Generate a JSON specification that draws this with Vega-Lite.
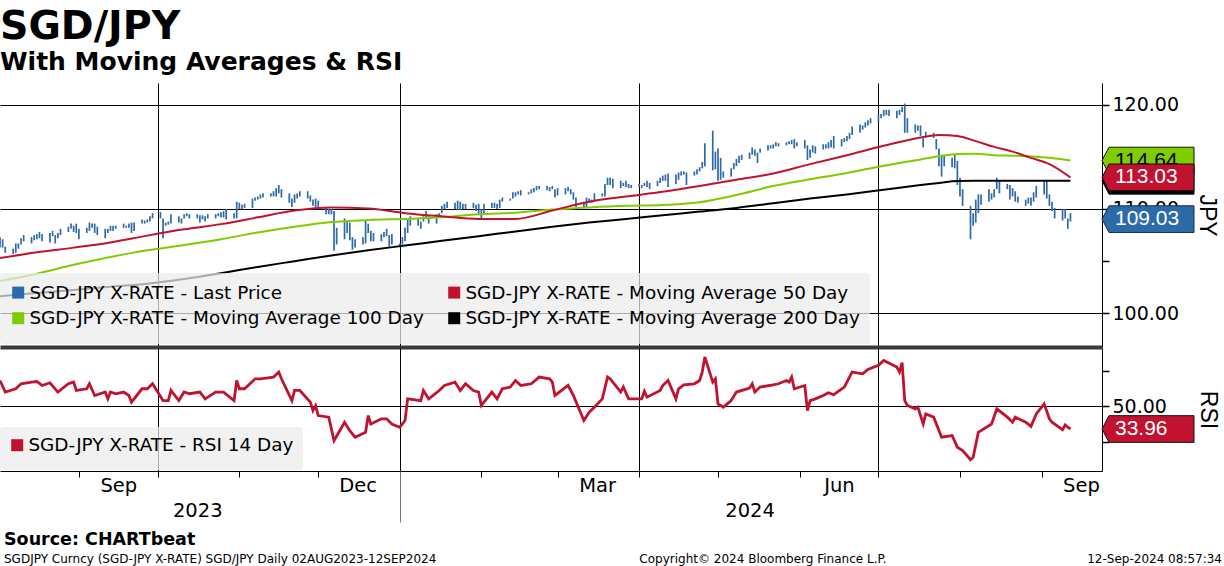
{
  "$schema": "https://vega.github.io/schema/vega-lite/v6.json",
  "background": "white",
  "padding": {"left": 0, "top": 6, "right": 0, "bottom": 0},
  "title": {
    "text": "SGD/JPY",
    "subtitle": "With Moving Averages & RSI",
    "anchor": "start",
    "frame": "group",
    "font": "DejaVu Sans",
    "fontSize": 39.5,
    "fontWeight": "bold",
    "color": "black",
    "subtitleFont": "DejaVu Sans",
    "subtitleFontSize": 25,
    "subtitleFontWeight": "bold",
    "subtitleColor": "black",
    "subtitlePadding": 3,
    "offset": 7
  },
  "datasets": {
    "bars": [
      {"d":"2023-08-02","h":107.3,"l":106.3},{"d":"2023-08-03","h":107.1,"l":106.3},{"d":"2023-08-04","h":106.4,"l":105.8},
      {"d":"2023-08-07","h":106.2,"l":105.7},{"d":"2023-08-08","h":106.7,"l":105.8},{"d":"2023-08-09","h":106.7,"l":106.2},{"d":"2023-08-10","h":107.2,"l":106.6},{"d":"2023-08-11","h":107.5,"l":106.9},
      {"d":"2023-08-14","h":107.3,"l":106.7},{"d":"2023-08-15","h":107.5,"l":107.0},{"d":"2023-08-16","h":107.6,"l":107.1},{"d":"2023-08-17","h":107.8,"l":107.2},{"d":"2023-08-18","h":107.6,"l":106.9},
      {"d":"2023-08-21","h":107.7,"l":106.8},{"d":"2023-08-22","h":107.9,"l":107.4},{"d":"2023-08-23","h":107.5,"l":106.7},{"d":"2023-08-24","h":107.7,"l":107.2},{"d":"2023-08-25","h":108.1,"l":107.5},
      {"d":"2023-08-28","h":108.3,"l":107.8},{"d":"2023-08-29","h":108.6,"l":108.1},{"d":"2023-08-30","h":108.4,"l":107.8},{"d":"2023-08-31","h":108.6,"l":107.7},{"d":"2023-09-01","h":108.1,"l":107.1},
      {"d":"2023-09-04","h":108.2,"l":107.7},{"d":"2023-09-05","h":108.7,"l":107.9},{"d":"2023-09-06","h":108.6,"l":108.2},{"d":"2023-09-07","h":108.6,"l":107.7},{"d":"2023-09-08","h":108.3,"l":107.5},
      {"d":"2023-09-11","h":108.1,"l":107.2},{"d":"2023-09-12","h":108.1,"l":107.7},{"d":"2023-09-13","h":108.4,"l":107.9},{"d":"2023-09-14","h":108.4,"l":107.9},{"d":"2023-09-15","h":108.4,"l":108.1},
      {"d":"2023-09-18","h":108.6,"l":108.2},{"d":"2023-09-19","h":108.4,"l":108.2},{"d":"2023-09-20","h":108.6,"l":108.2},{"d":"2023-09-21","h":108.7,"l":107.7},{"d":"2023-09-22","h":108.7,"l":107.9},
      {"d":"2023-09-25","h":109.0,"l":108.6},{"d":"2023-09-26","h":108.9,"l":108.6},{"d":"2023-09-27","h":109.0,"l":108.7},{"d":"2023-09-28","h":109.3,"l":108.8},{"d":"2023-09-29","h":109.6,"l":109.1},
      {"d":"2023-10-02","h":109.7,"l":109.1},{"d":"2023-10-03","h":109.1,"l":107.2},{"d":"2023-10-04","h":108.7,"l":108.4},{"d":"2023-10-05","h":108.8,"l":108.5},{"d":"2023-10-06","h":109.5,"l":108.6},
      {"d":"2023-10-09","h":109.3,"l":108.7},{"d":"2023-10-10","h":109.1,"l":108.6},{"d":"2023-10-11","h":109.5,"l":109.1},{"d":"2023-10-12","h":109.6,"l":109.3},{"d":"2023-10-13","h":109.5,"l":109.1},
      {"d":"2023-10-16","h":109.5,"l":109.1},{"d":"2023-10-17","h":109.4,"l":108.7},{"d":"2023-10-18","h":109.4,"l":109.0},{"d":"2023-10-19","h":109.3,"l":108.8},{"d":"2023-10-20","h":109.5,"l":109.1},
      {"d":"2023-10-23","h":109.5,"l":109.1},{"d":"2023-10-24","h":109.6,"l":109.3},{"d":"2023-10-25","h":109.7,"l":109.2},{"d":"2023-10-26","h":109.8,"l":109.2},{"d":"2023-10-27","h":110.0,"l":109.0},
      {"d":"2023-10-30","h":109.6,"l":109.1},{"d":"2023-10-31","h":110.7,"l":109.1},{"d":"2023-11-01","h":110.6,"l":110.0},{"d":"2023-11-02","h":110.4,"l":110.0},{"d":"2023-11-03","h":110.5,"l":110.1},
      {"d":"2023-11-06","h":111.0,"l":110.1},{"d":"2023-11-07","h":111.1,"l":110.8},{"d":"2023-11-08","h":111.2,"l":110.9},{"d":"2023-11-09","h":111.4,"l":111.0},{"d":"2023-11-10","h":111.5,"l":111.1},
      {"d":"2023-11-13","h":111.5,"l":111.2},{"d":"2023-11-14","h":111.7,"l":111.2},{"d":"2023-11-15","h":112.0,"l":111.2},{"d":"2023-11-16","h":112.3,"l":111.5},{"d":"2023-11-17","h":111.9,"l":111.1},
      {"d":"2023-11-20","h":111.5,"l":110.6},{"d":"2023-11-21","h":111.0,"l":110.2},{"d":"2023-11-22","h":111.4,"l":110.6},{"d":"2023-11-23","h":111.5,"l":111.0},{"d":"2023-11-24","h":111.7,"l":111.2},
      {"d":"2023-11-27","h":111.7,"l":111.0},{"d":"2023-11-28","h":111.3,"l":110.7},{"d":"2023-11-29","h":110.9,"l":110.3},{"d":"2023-11-30","h":111.0,"l":110.1},{"d":"2023-12-01","h":110.8,"l":110.1},
      {"d":"2023-12-04","h":110.1,"l":109.5},{"d":"2023-12-05","h":110.0,"l":109.5},{"d":"2023-12-06","h":110.0,"l":109.5},{"d":"2023-12-07","h":109.8,"l":106.0},{"d":"2023-12-08","h":108.2,"l":106.6},
      {"d":"2023-12-11","h":109.1,"l":107.1},{"d":"2023-12-12","h":108.9,"l":107.7},{"d":"2023-12-13","h":108.7,"l":107.0},{"d":"2023-12-14","h":107.3,"l":106.1},{"d":"2023-12-15","h":107.1,"l":106.3},
      {"d":"2023-12-18","h":107.3,"l":106.6},{"d":"2023-12-19","h":108.9,"l":106.7},{"d":"2023-12-20","h":108.6,"l":107.7},{"d":"2023-12-21","h":107.9,"l":106.9},{"d":"2023-12-22","h":107.7,"l":106.9},
      {"d":"2023-12-25","h":107.6,"l":106.9},{"d":"2023-12-26","h":107.8,"l":107.3},{"d":"2023-12-27","h":108.1,"l":107.4},{"d":"2023-12-28","h":107.5,"l":106.4},{"d":"2023-12-29","h":107.6,"l":106.6},
      {"d":"2024-01-01","h":106.7,"l":106.5},{"d":"2024-01-02","h":107.3,"l":106.6},{"d":"2024-01-03","h":108.2,"l":106.9},{"d":"2024-01-04","h":109.0,"l":107.7},{"d":"2024-01-05","h":109.3,"l":108.4},
      {"d":"2024-01-08","h":109.1,"l":108.4},{"d":"2024-01-09","h":108.8,"l":108.1},{"d":"2024-01-10","h":109.3,"l":108.8},{"d":"2024-01-11","h":109.8,"l":109.1},{"d":"2024-01-12","h":109.3,"l":108.6},
      {"d":"2024-01-15","h":109.5,"l":108.6},{"d":"2024-01-16","h":109.6,"l":109.3},{"d":"2024-01-17","h":110.3,"l":109.6},{"d":"2024-01-18","h":110.5,"l":110.0},{"d":"2024-01-19","h":110.7,"l":110.1},
      {"d":"2024-01-22","h":110.6,"l":110.0},{"d":"2024-01-23","h":110.8,"l":109.9},{"d":"2024-01-24","h":110.7,"l":109.9},{"d":"2024-01-25","h":110.5,"l":110.0},{"d":"2024-01-26","h":110.5,"l":110.0},
      {"d":"2024-01-29","h":110.6,"l":110.1},{"d":"2024-01-30","h":110.4,"l":109.8},{"d":"2024-01-31","h":110.5,"l":109.5},{"d":"2024-02-01","h":110.0,"l":109.0},{"d":"2024-02-02","h":110.5,"l":109.5},
      {"d":"2024-02-05","h":110.6,"l":110.1},{"d":"2024-02-06","h":110.6,"l":110.1},{"d":"2024-02-07","h":110.5,"l":110.0},{"d":"2024-02-08","h":110.9,"l":110.1},{"d":"2024-02-09","h":111.1,"l":110.7},
      {"d":"2024-02-12","h":111.0,"l":110.8},{"d":"2024-02-13","h":111.6,"l":111.0},{"d":"2024-02-14","h":111.6,"l":111.2},{"d":"2024-02-15","h":111.7,"l":111.4},{"d":"2024-02-16","h":111.8,"l":111.3},
      {"d":"2024-02-19","h":111.6,"l":111.4},{"d":"2024-02-20","h":111.9,"l":111.5},{"d":"2024-02-21","h":112.0,"l":111.6},{"d":"2024-02-22","h":112.2,"l":111.8},{"d":"2024-02-23","h":112.2,"l":111.9},
      {"d":"2024-02-26","h":112.2,"l":111.8},{"d":"2024-02-27","h":112.1,"l":111.7},{"d":"2024-02-28","h":112.2,"l":111.9},{"d":"2024-02-29","h":111.9,"l":111.1},{"d":"2024-03-01","h":112.0,"l":111.3},
      {"d":"2024-03-04","h":112.0,"l":111.4},{"d":"2024-03-05","h":112.1,"l":111.7},{"d":"2024-03-06","h":111.9,"l":111.4},{"d":"2024-03-07","h":111.6,"l":110.9},{"d":"2024-03-08","h":111.1,"l":110.2},
      {"d":"2024-03-11","h":110.7,"l":110.2},{"d":"2024-03-12","h":111.1,"l":110.2},{"d":"2024-03-13","h":111.0,"l":110.6},{"d":"2024-03-14","h":110.9,"l":110.6},{"d":"2024-03-15","h":111.5,"l":110.7},
      {"d":"2024-03-18","h":111.5,"l":111.2},{"d":"2024-03-19","h":112.4,"l":111.2},{"d":"2024-03-20","h":113.0,"l":112.3},{"d":"2024-03-21","h":113.0,"l":112.3},{"d":"2024-03-22","h":112.9,"l":112.0},
      {"d":"2024-03-25","h":112.7,"l":112.0},{"d":"2024-03-26","h":112.5,"l":112.2},{"d":"2024-03-27","h":112.7,"l":112.1},{"d":"2024-03-28","h":112.4,"l":112.0},{"d":"2024-03-29","h":112.3,"l":112.0},
      {"d":"2024-04-01","h":112.4,"l":112.1},{"d":"2024-04-02","h":112.3,"l":112.0},{"d":"2024-04-03","h":112.5,"l":112.2},{"d":"2024-04-04","h":112.7,"l":112.1},{"d":"2024-04-05","h":112.5,"l":111.9},
      {"d":"2024-04-08","h":112.7,"l":112.2},{"d":"2024-04-09","h":113.0,"l":112.5},{"d":"2024-04-10","h":113.2,"l":112.7},{"d":"2024-04-11","h":113.3,"l":112.7},{"d":"2024-04-12","h":113.4,"l":112.1},
      {"d":"2024-04-15","h":113.3,"l":112.4},{"d":"2024-04-16","h":113.5,"l":112.8},{"d":"2024-04-17","h":113.6,"l":113.2},{"d":"2024-04-18","h":113.6,"l":113.3},{"d":"2024-04-19","h":113.5,"l":112.3},
      {"d":"2024-04-22","h":113.6,"l":113.2},{"d":"2024-04-23","h":113.8,"l":113.3},{"d":"2024-04-24","h":114.0,"l":113.6},{"d":"2024-04-25","h":114.5,"l":113.9},{"d":"2024-04-26","h":116.3,"l":114.1},
      {"d":"2024-04-29","h":117.5,"l":113.7},{"d":"2024-04-30","h":115.5,"l":113.8},{"d":"2024-05-01","h":115.8,"l":112.7},{"d":"2024-05-02","h":114.9,"l":112.8},{"d":"2024-05-03","h":113.6,"l":113.0},
      {"d":"2024-05-06","h":113.9,"l":113.1},{"d":"2024-05-07","h":114.4,"l":113.8},{"d":"2024-05-08","h":114.8,"l":114.1},{"d":"2024-05-09","h":115.1,"l":114.4},{"d":"2024-05-10","h":115.2,"l":114.7},
      {"d":"2024-05-13","h":115.4,"l":114.8},{"d":"2024-05-14","h":115.9,"l":115.2},{"d":"2024-05-15","h":115.7,"l":115.1},{"d":"2024-05-16","h":115.4,"l":114.4},{"d":"2024-05-17","h":115.8,"l":115.4},
      {"d":"2024-05-20","h":116.1,"l":115.6},{"d":"2024-05-21","h":116.1,"l":115.8},{"d":"2024-05-22","h":116.2,"l":115.8},{"d":"2024-05-23","h":116.4,"l":116.0},{"d":"2024-05-24","h":116.3,"l":116.0},
      {"d":"2024-05-27","h":116.4,"l":116.1},{"d":"2024-05-28","h":116.5,"l":116.2},{"d":"2024-05-29","h":116.6,"l":116.2},{"d":"2024-05-30","h":116.7,"l":115.8},{"d":"2024-05-31","h":116.4,"l":116.0},
      {"d":"2024-06-03","h":116.6,"l":115.8},{"d":"2024-06-04","h":116.1,"l":114.7},{"d":"2024-06-05","h":115.7,"l":114.9},{"d":"2024-06-06","h":116.1,"l":115.4},{"d":"2024-06-07","h":116.0,"l":115.3},
      {"d":"2024-06-10","h":116.2,"l":115.7},{"d":"2024-06-11","h":116.2,"l":115.8},{"d":"2024-06-12","h":116.4,"l":115.8},{"d":"2024-06-13","h":116.6,"l":115.9},{"d":"2024-06-14","h":117.0,"l":115.8},
      {"d":"2024-06-17","h":116.7,"l":116.0},{"d":"2024-06-18","h":116.8,"l":116.4},{"d":"2024-06-19","h":117.0,"l":116.5},{"d":"2024-06-20","h":117.3,"l":116.7},{"d":"2024-06-21","h":117.9,"l":117.1},
      {"d":"2024-06-24","h":118.1,"l":117.3},{"d":"2024-06-25","h":118.0,"l":117.6},{"d":"2024-06-26","h":118.3,"l":117.8},{"d":"2024-06-27","h":118.5,"l":118.0},{"d":"2024-06-28","h":118.7,"l":118.2},
      {"d":"2024-07-01","h":119.0,"l":118.4},{"d":"2024-07-02","h":119.1,"l":118.7},{"d":"2024-07-03","h":119.5,"l":118.9},{"d":"2024-07-04","h":119.5,"l":119.0},{"d":"2024-07-05","h":119.5,"l":118.9},
      {"d":"2024-07-08","h":119.4,"l":118.7},{"d":"2024-07-09","h":119.5,"l":119.0},{"d":"2024-07-10","h":119.8,"l":119.3},{"d":"2024-07-11","h":120.1,"l":117.3},{"d":"2024-07-12","h":118.7,"l":117.3},
      {"d":"2024-07-15","h":118.1,"l":117.3},{"d":"2024-07-16","h":118.0,"l":117.5},{"d":"2024-07-17","h":118.0,"l":117.0},{"d":"2024-07-18","h":117.0,"l":115.9},{"d":"2024-07-19","h":117.4,"l":116.8},
      {"d":"2024-07-22","h":117.3,"l":116.8},{"d":"2024-07-23","h":116.7,"l":115.7},{"d":"2024-07-24","h":115.8,"l":114.1},{"d":"2024-07-25","h":115.2,"l":113.1},{"d":"2024-07-26","h":115.1,"l":114.1},
      {"d":"2024-07-29","h":114.9,"l":114.0},{"d":"2024-07-30","h":115.2,"l":113.9},{"d":"2024-07-31","h":114.6,"l":112.3},{"d":"2024-08-01","h":113.0,"l":111.2},{"d":"2024-08-02","h":111.9,"l":110.3},
      {"d":"2024-08-05","h":110.3,"l":107.1},{"d":"2024-08-06","h":109.6,"l":108.4},{"d":"2024-08-07","h":110.9,"l":108.7},{"d":"2024-08-08","h":111.4,"l":109.6},{"d":"2024-08-09","h":111.4,"l":110.4},
      {"d":"2024-08-12","h":111.9,"l":110.7},{"d":"2024-08-13","h":111.5,"l":110.9},{"d":"2024-08-14","h":111.9,"l":111.1},{"d":"2024-08-15","h":113.0,"l":111.9},{"d":"2024-08-16","h":112.7,"l":111.5},
      {"d":"2024-08-19","h":112.4,"l":111.9},{"d":"2024-08-20","h":112.3,"l":110.9},{"d":"2024-08-21","h":112.0,"l":111.2},{"d":"2024-08-22","h":111.7,"l":110.7},{"d":"2024-08-23","h":111.2,"l":110.6},
      {"d":"2024-08-26","h":110.9,"l":110.3},{"d":"2024-08-27","h":111.1,"l":110.5},{"d":"2024-08-28","h":111.1,"l":110.3},{"d":"2024-08-29","h":111.6,"l":110.7},{"d":"2024-08-30","h":112.2,"l":111.1},
      {"d":"2024-09-02","h":112.6,"l":111.4},{"d":"2024-09-03","h":112.7,"l":111.0},{"d":"2024-09-04","h":111.4,"l":110.3},{"d":"2024-09-05","h":110.7,"l":109.8},{"d":"2024-09-06","h":110.1,"l":109.1},
      {"d":"2024-09-09","h":110.0,"l":108.9},{"d":"2024-09-10","h":110.0,"l":109.1},{"d":"2024-09-11","h":109.1,"l":108.1},{"d":"2024-09-12","h":109.6,"l":108.8}
    ],
    "ma": [
      {"d":"2023-08-02","m50":105.3,"m100":103.1,"m200":101.65},
      {"d":"2023-08-16","m50":105.85,"m100":103.8,"m200":101.95},
      {"d":"2023-08-30","m50":106.3,"m100":104.65,"m200":102.25},
      {"d":"2023-09-13","m50":106.8,"m100":105.4,"m200":102.55},
      {"d":"2023-09-27","m50":107.45,"m100":106.05,"m200":102.85},
      {"d":"2023-10-11","m50":108.05,"m100":106.55,"m200":103.3},
      {"d":"2023-10-25","m50":108.55,"m100":107.1,"m200":103.85},
      {"d":"2023-11-08","m50":109.2,"m100":107.75,"m200":104.45},
      {"d":"2023-11-22","m50":109.85,"m100":108.3,"m200":105.0},
      {"d":"2023-12-06","m50":110.15,"m100":108.75,"m200":105.55},
      {"d":"2023-12-20","m50":110.05,"m100":108.95,"m200":106.05},
      {"d":"2024-01-03","m50":109.6,"m100":109.05,"m200":106.5},
      {"d":"2024-01-17","m50":109.3,"m100":109.2,"m200":106.95},
      {"d":"2024-01-31","m50":109.05,"m100":109.5,"m200":107.4},
      {"d":"2024-02-14","m50":109.05,"m100":109.65,"m200":107.85},
      {"d":"2024-02-28","m50":109.85,"m100":109.95,"m200":108.3},
      {"d":"2024-03-13","m50":110.7,"m100":110.15,"m200":108.7},
      {"d":"2024-03-27","m50":111.2,"m100":110.3,"m200":109.05},
      {"d":"2024-04-10","m50":111.65,"m100":110.38,"m200":109.4},
      {"d":"2024-04-24","m50":112.2,"m100":110.65,"m200":109.75},
      {"d":"2024-05-08","m50":112.8,"m100":111.35,"m200":110.1},
      {"d":"2024-05-22","m50":113.4,"m100":112.2,"m200":110.55},
      {"d":"2024-06-05","m50":114.3,"m100":112.85,"m200":111.0},
      {"d":"2024-06-19","m50":115.15,"m100":113.45,"m200":111.4},
      {"d":"2024-07-03","m50":116.05,"m100":114.15,"m200":111.85},
      {"d":"2024-07-17","m50":116.85,"m100":114.75,"m200":112.3},
      {"d":"2024-07-24","m50":117.1,"m100":115.05,"m200":112.5},
      {"d":"2024-07-31","m50":117.0,"m100":115.28,"m200":112.68},
      {"d":"2024-08-07","m50":116.5,"m100":115.3,"m200":112.7},
      {"d":"2024-08-14","m50":115.95,"m100":115.15,"m200":112.7},
      {"d":"2024-08-21","m50":115.5,"m100":115.1,"m200":112.7},
      {"d":"2024-08-28","m50":114.9,"m100":115.03,"m200":112.7},
      {"d":"2024-09-04","m50":114.3,"m100":114.9,"m200":112.7},
      {"d":"2024-09-12","m50":113.03,"m100":114.64,"m200":112.7}
    ],
    "rsi": [
      {"d":"2023-08-02","r":68.0},{"d":"2023-08-04","r":59.9},{"d":"2023-08-08","r":62.2},{"d":"2023-08-10","r":65.7},{"d":"2023-08-14","r":66.9},
      {"d":"2023-08-16","r":67.3},{"d":"2023-08-18","r":64.5},{"d":"2023-08-21","r":66.4},{"d":"2023-08-24","r":59.9},{"d":"2023-08-28","r":65.7},
      {"d":"2023-08-30","r":66.9},{"d":"2023-08-31","r":61.0},{"d":"2023-09-04","r":62.2},{"d":"2023-09-05","r":65.7},{"d":"2023-09-07","r":57.5},
      {"d":"2023-09-11","r":59.9},{"d":"2023-09-12","r":55.1},{"d":"2023-09-13","r":59.9},{"d":"2023-09-15","r":58.7},{"d":"2023-09-18","r":59.9},
      {"d":"2023-09-20","r":57.5},{"d":"2023-09-21","r":52.8},{"d":"2023-09-25","r":62.2},{"d":"2023-09-27","r":62.2},{"d":"2023-09-29","r":65.7},
      {"d":"2023-10-03","r":53.9},{"d":"2023-10-05","r":53.9},{"d":"2023-10-06","r":61.0},{"d":"2023-10-09","r":53.9},{"d":"2023-10-11","r":59.9},
      {"d":"2023-10-13","r":58.7},{"d":"2023-10-17","r":59.9},{"d":"2023-10-19","r":55.1},{"d":"2023-10-23","r":59.9},{"d":"2023-10-26","r":59.9},
      {"d":"2023-10-30","r":53.9},{"d":"2023-10-31","r":68.0},{"d":"2023-11-01","r":62.2},{"d":"2023-11-03","r":62.2},{"d":"2023-11-07","r":69.2},
      {"d":"2023-11-09","r":69.2},{"d":"2023-11-14","r":70.4},{"d":"2023-11-16","r":73.9},{"d":"2023-11-17","r":69.2},{"d":"2023-11-21","r":53.9},
      {"d":"2023-11-22","r":61.0},{"d":"2023-11-24","r":61.0},{"d":"2023-11-28","r":52.8},{"d":"2023-11-29","r":46.9},{"d":"2023-11-30","r":50.4},
      {"d":"2023-12-01","r":43.4},{"d":"2023-12-05","r":42.3},{"d":"2023-12-07","r":25.8},{"d":"2023-12-11","r":38.7},{"d":"2023-12-13","r":32.8},
      {"d":"2023-12-15","r":28.2},{"d":"2023-12-19","r":31.7},{"d":"2023-12-20","r":43.4},{"d":"2023-12-21","r":37.5},{"d":"2023-12-25","r":41.1},
      {"d":"2023-12-27","r":41.1},{"d":"2023-12-29","r":37.5},{"d":"2024-01-01","r":35.2},{"d":"2024-01-03","r":39.9},{"d":"2024-01-04","r":55.1},
      {"d":"2024-01-09","r":53.9},{"d":"2024-01-10","r":61.0},{"d":"2024-01-12","r":55.1},{"d":"2024-01-16","r":61.0},{"d":"2024-01-18","r":64.5},
      {"d":"2024-01-22","r":66.9},{"d":"2024-01-24","r":61.0},{"d":"2024-01-26","r":65.7},{"d":"2024-01-29","r":61.0},{"d":"2024-01-31","r":59.9},
      {"d":"2024-02-01","r":50.4},{"d":"2024-02-05","r":59.9},{"d":"2024-02-07","r":55.1},{"d":"2024-02-09","r":62.2},{"d":"2024-02-12","r":63.4},
      {"d":"2024-02-14","r":68.0},{"d":"2024-02-16","r":64.5},{"d":"2024-02-20","r":65.7},{"d":"2024-02-23","r":70.4},{"d":"2024-02-27","r":69.2},
      {"d":"2024-02-28","r":66.9},{"d":"2024-02-29","r":57.5},{"d":"2024-03-05","r":64.5},{"d":"2024-03-07","r":57.5},{"d":"2024-03-11","r":39.9},
      {"d":"2024-03-13","r":45.8},{"d":"2024-03-15","r":49.3},{"d":"2024-03-18","r":55.1},{"d":"2024-03-20","r":70.4},{"d":"2024-03-21","r":69.2},
      {"d":"2024-03-25","r":59.9},{"d":"2024-03-26","r":63.4},{"d":"2024-03-28","r":55.1},{"d":"2024-04-01","r":55.1},{"d":"2024-04-02","r":55.1},
      {"d":"2024-04-03","r":60.4},{"d":"2024-04-04","r":56.3},{"d":"2024-04-09","r":61.0},{"d":"2024-04-10","r":64.5},{"d":"2024-04-12","r":68.0},
      {"d":"2024-04-15","r":55.1},{"d":"2024-04-16","r":62.2},{"d":"2024-04-18","r":65.0},{"d":"2024-04-22","r":65.7},{"d":"2024-04-24","r":68.0},
      {"d":"2024-04-25","r":73.9},{"d":"2024-04-26","r":84.5},{"d":"2024-04-29","r":66.9},{"d":"2024-04-30","r":69.2},{"d":"2024-05-01","r":51.6},
      {"d":"2024-05-02","r":50.5},{"d":"2024-05-03","r":49.3},{"d":"2024-05-06","r":53.9},{"d":"2024-05-08","r":59.9},{"d":"2024-05-13","r":62.7},
      {"d":"2024-05-14","r":65.7},{"d":"2024-05-15","r":59.9},{"d":"2024-05-17","r":63.4},{"d":"2024-05-22","r":65.0},{"d":"2024-05-24","r":65.7},
      {"d":"2024-05-27","r":68.0},{"d":"2024-05-28","r":66.9},{"d":"2024-05-29","r":70.4},{"d":"2024-05-30","r":62.2},{"d":"2024-06-03","r":64.5},
      {"d":"2024-06-04","r":46.9},{"d":"2024-06-05","r":53.9},{"d":"2024-06-07","r":55.1},{"d":"2024-06-10","r":57.5},{"d":"2024-06-12","r":59.4},
      {"d":"2024-06-14","r":58.0},{"d":"2024-06-18","r":63.4},{"d":"2024-06-19","r":66.9},{"d":"2024-06-21","r":73.9},{"d":"2024-06-25","r":72.7},
      {"d":"2024-06-27","r":75.8},{"d":"2024-07-01","r":78.6},{"d":"2024-07-03","r":82.1},{"d":"2024-07-08","r":77.4},{"d":"2024-07-09","r":73.9},
      {"d":"2024-07-10","r":80.5},{"d":"2024-07-11","r":53.9},{"d":"2024-07-12","r":50.5},{"d":"2024-07-15","r":48.1},{"d":"2024-07-16","r":49.3},
      {"d":"2024-07-18","r":37.5},{"d":"2024-07-19","r":44.6},{"d":"2024-07-22","r":42.3},{"d":"2024-07-25","r":28.2},{"d":"2024-07-29","r":29.4},
      {"d":"2024-07-31","r":21.2},{"d":"2024-08-02","r":18.8},{"d":"2024-08-05","r":12.4},{"d":"2024-08-06","r":14.1},{"d":"2024-08-08","r":31.7},
      {"d":"2024-08-09","r":32.8},{"d":"2024-08-13","r":37.5},{"d":"2024-08-15","r":48.1},{"d":"2024-08-19","r":42.3},{"d":"2024-08-21","r":38.7},
      {"d":"2024-08-22","r":42.3},{"d":"2024-08-26","r":38.7},{"d":"2024-08-28","r":35.8},{"d":"2024-08-30","r":44.6},{"d":"2024-09-02","r":51.6},
      {"d":"2024-09-04","r":41.1},{"d":"2024-09-05","r":38.7},{"d":"2024-09-09","r":33.5},{"d":"2024-09-10","r":36.8},{"d":"2024-09-11","r":35.2},
      {"d":"2024-09-12","r":33.96}
    ],
    "flags": [
      {"k":"g","v":114.64},
      {"k":"k","v":112.70},
      {"k":"r","v":113.03},
      {"k":"b","v":109.03}
    ],
    "rsiflag": [{"v":33.96}]
  },
  "spacing": 8,
  "vconcat": [
    {
      "spacing": 1,
      "resolve": {
        "scale": {"x": "independent", "y": "independent", "color": "independent"},
        "legend": {"color": "independent"}
      },
      "vconcat": [
        {
          "width": 1102,
          "height": 264,
          "layer": [
            {
              "data": {"name": "bars"},
              "mark": {"type": "rule", "strokeWidth": 1.7, "clip": true},
              "encoding": {
                "x": {
                  "field": "d",
                  "type": "temporal",
                  "scale": {"domain": [{"year": 2023, "month": 8, "date": 2}, {"year": 2024, "month": 9, "date": 24}]},
                  "axis": {
                    "orient": "bottom",
                    "values": [{"year": 2023, "month": 10, "date": 1}, {"year": 2024, "month": 1, "date": 1}, {"year": 2024, "month": 4, "date": 1}, {"year": 2024, "month": 7, "date": 1}],
                    "grid": true,
                    "labels": false,
                    "ticks": false,
                    "domain": true,
                    "domainWidth": 4,
                    "domainColor": "#3a3a3a",
                    "title": null
                  }
                },
                "y": {
                  "field": "h",
                  "type": "quantitative",
                  "scale": {"domain": [96.78, 122.07], "nice": false, "zero": false},
                  "axis": {
                    "orient": "right",
                    "values": [100, 105, 110, 115, 120],
                    "labelExpr": "datum.value % 10 === 0 ? format(datum.value, '.2f') : ''",
                    "gridOpacity": {"condition": {"test": "datum.value % 10 === 0", "value": 1}, "value": 0},
                    "tickSize": 7,
                    "tickWidth": 1.5,
                    "labelPadding": 3,
                    "domain": true,
                    "title": "JPY",
                    "titlePadding": 16
                  }
                },
                "y2": {"field": "l"},
                "color": {
                  "datum": "SGD-JPY X-RATE - Last Price",
                  "scale": {
                    "domain": ["SGD-JPY X-RATE - Last Price", "SGD-JPY X-RATE - Moving Average 100 Day", "SGD-JPY X-RATE - Moving Average 50 Day", "SGD-JPY X-RATE - Moving Average 200 Day"],
                    "range": ["#2d6aa9", "#80cc00", "#c1122f", "#000000"]
                  },
                  "legend": {"orient": "none", "legendX": 0, "legendY": 190, "columns": 2, "title": null, "padding": 10, "rowPadding": -5, "columnPadding": 15, "symbolOffset": -1, "labelOffset": 2}
                }
              }
            },
            {
              "data": {"name": "ma"},
              "mark": {"type": "line", "strokeWidth": 2, "interpolate": "monotone", "clip": true},
              "encoding": {
                "x": {"field": "d", "type": "temporal"},
                "y": {"field": "m200", "type": "quantitative"},
                "color": {"datum": "SGD-JPY X-RATE - Moving Average 200 Day"}
              }
            },
            {
              "data": {"name": "ma"},
              "mark": {"type": "line", "strokeWidth": 2, "interpolate": "monotone", "clip": true},
              "encoding": {
                "x": {"field": "d", "type": "temporal"},
                "y": {"field": "m100", "type": "quantitative"},
                "color": {"datum": "SGD-JPY X-RATE - Moving Average 100 Day"}
              }
            },
            {
              "data": {"name": "ma"},
              "mark": {"type": "line", "strokeWidth": 2, "interpolate": "monotone", "clip": true},
              "encoding": {
                "x": {"field": "d", "type": "temporal"},
                "y": {"field": "m50", "type": "quantitative"},
                "color": {"datum": "SGD-JPY X-RATE - Moving Average 50 Day"}
              }
            },
            {
              "mark": {"type": "rule", "strokeWidth": 4, "color": "#3a3a3a"},
              "encoding": {
                "x": {"datum": {"year": 2023, "month": 8, "date": 2}, "type": "temporal"},
                "x2": {"datum": {"year": 2024, "month": 11, "date": 7}},
                "y": {"datum": 96.78, "type": "quantitative"}
              }
            },
            {
              "data": {"name": "flags"},
              "transform": [{"filter": "datum.k == 'g'"}],
              "mark": {"type": "point", "shape": "M -1 0 L -0.848 -0.29 L 1 -0.29 L 1 0.29 L -0.848 0.29 Z", "filled": true, "size": 8464, "opacity": 1, "fill": "#80cc00", "stroke": "#111111", "strokeWidth": 1, "xOffset": 46},
              "encoding": {"x": {"value": "width"}, "y": {"field": "v", "type": "quantitative"}}
            },
            {
              "data": {"name": "flags"},
              "transform": [{"filter": "datum.k == 'g'"}],
              "mark": {"type": "text", "font": "Liberation Sans", "fontSize": 21, "align": "left", "baseline": "middle", "xOffset": 13, "fill": "black"},
              "encoding": {"x": {"value": "width"}, "y": {"field": "v", "type": "quantitative"}, "text": {"field": "v", "type": "quantitative", "format": ".2f"}}
            },
            {
              "data": {"name": "flags"},
              "transform": [{"filter": "datum.k == 'k'"}],
              "mark": {"type": "point", "shape": "M -1 0 L -0.848 -0.29 L 1 -0.29 L 1 0.29 L -0.848 0.29 Z", "filled": true, "size": 8464, "opacity": 1, "fill": "#000000", "stroke": "#111111", "strokeWidth": 1, "xOffset": 46},
              "encoding": {"x": {"value": "width"}, "y": {"field": "v", "type": "quantitative"}}
            },
            {
              "data": {"name": "flags"},
              "transform": [{"filter": "datum.k == 'r'"}],
              "mark": {"type": "point", "shape": "M -1 0 L -0.848 -0.29 L 1 -0.29 L 1 0.29 L -0.848 0.29 Z", "filled": true, "size": 8464, "opacity": 1, "fill": "#c1122f", "stroke": "#111111", "strokeWidth": 1, "xOffset": 46},
              "encoding": {"x": {"value": "width"}, "y": {"field": "v", "type": "quantitative"}}
            },
            {
              "data": {"name": "flags"},
              "transform": [{"filter": "datum.k == 'r'"}],
              "mark": {"type": "text", "font": "Liberation Sans", "fontSize": 21, "align": "left", "baseline": "middle", "xOffset": 13, "fill": "white"},
              "encoding": {"x": {"value": "width"}, "y": {"field": "v", "type": "quantitative"}, "text": {"field": "v", "type": "quantitative", "format": ".2f"}}
            },
            {
              "data": {"name": "flags"},
              "transform": [{"filter": "datum.k == 'b'"}],
              "mark": {"type": "point", "shape": "M -1 0 L -0.848 -0.29 L 1 -0.29 L 1 0.29 L -0.848 0.29 Z", "filled": true, "size": 8464, "opacity": 1, "fill": "#2d6aa9", "stroke": "#14314f", "strokeWidth": 1, "xOffset": 46},
              "encoding": {"x": {"value": "width"}, "y": {"field": "v", "type": "quantitative"}}
            },
            {
              "data": {"name": "flags"},
              "transform": [{"filter": "datum.k == 'b'"}],
              "mark": {"type": "text", "font": "Liberation Sans", "fontSize": 21, "align": "left", "baseline": "middle", "xOffset": 13, "fill": "white"},
              "encoding": {"x": {"value": "width"}, "y": {"field": "v", "type": "quantitative"}, "text": {"field": "v", "type": "quantitative", "format": ".2f"}}
            }
          ]
        },
        {
          "width": 1102,
          "height": 123,
          "data": {"name": "rsi"},
          "layer": [
            {
              "mark": {"type": "line", "strokeWidth": 2.8, "clip": true},
              "encoding": {
                "x": {
                  "field": "d",
                  "type": "temporal",
                  "scale": {"domain": [{"year": 2023, "month": 8, "date": 2}, {"year": 2024, "month": 9, "date": 24}]},
                  "axis": {
                    "orient": "bottom",
                    "values": [{"year": 2023, "month": 9, "date": 1}, {"year": 2023, "month": 10, "date": 1}, {"year": 2023, "month": 11, "date": 1}, {"year": 2023, "month": 12, "date": 1}, {"year": 2024, "month": 1, "date": 1}, {"year": 2024, "month": 2, "date": 1}, {"year": 2024, "month": 3, "date": 1}, {"year": 2024, "month": 4, "date": 1}, {"year": 2024, "month": 5, "date": 1}, {"year": 2024, "month": 6, "date": 1}, {"year": 2024, "month": 7, "date": 1}, {"year": 2024, "month": 8, "date": 1}, {"year": 2024, "month": 9, "date": 1}],
                    "grid": true,
                    "gridOpacity": {"condition": {"test": "month(datum.value) % 3 === 0", "value": 1}, "value": 0},
                    "labels": false,
                    "ticks": true,
                    "tickSize": 6,
                    "domain": true,
                    "title": null
                  }
                },
                "y": {
                  "field": "r",
                  "type": "quantitative",
                  "scale": {"domain": [4.5, 90.8], "nice": false, "zero": false},
                  "axis": {
                    "orient": "right",
                    "values": [25, 50, 75],
                    "labelExpr": "datum.value === 50 ? '50.00' : ''",
                    "gridOpacity": {"condition": {"test": "datum.value === 50", "value": 1}, "value": 0},
                    "tickSize": 7,
                    "tickWidth": 1.5,
                    "labelPadding": 3,
                    "domain": true,
                    "title": "RSI",
                    "titlePadding": 29
                  }
                },
                "color": {
                  "datum": "SGD-JPY X-RATE - RSI 14 Day",
                  "scale": {"range": ["#c1122f"]},
                  "legend": {"orient": "none", "legendX": 0, "legendY": 79, "title": null, "padding": 9, "symbolOffset": -1, "labelOffset": 2}
                }
              }
            },
            {
              "mark": {"type": "point", "opacity": 0, "size": 0, "strokeWidth": 0},
              "encoding": {
                "x": {
                  "field": "d",
                  "type": "temporal",
                  "axis": {
                    "orient": "bottom",
                    "values": [{"year": 2023, "month": 9, "date": 16}, {"year": 2023, "month": 12, "date": 16}, {"year": 2024, "month": 3, "date": 16}, {"year": 2024, "month": 6, "date": 16}, {"year": 2024, "month": 9, "date": 16}],
                    "format": "%b",
                    "grid": false,
                    "ticks": false,
                    "domain": false,
                    "labelFontSize": 19.5,
                    "labelPadding": 5,
                    "title": null
                  }
                },
                "y": {"field": "r", "type": "quantitative"}
              }
            },
            {
              "mark": {"type": "point", "opacity": 0, "size": 0, "strokeWidth": 0},
              "encoding": {
                "x": {
                  "field": "d",
                  "type": "temporal",
                  "axis": {
                    "orient": "bottom",
                    "values": [{"year": 2023, "month": 10, "date": 16}, {"year": 2024, "month": 5, "date": 13}],
                    "format": "%Y",
                    "grid": false,
                    "ticks": false,
                    "domain": false,
                    "labelFontSize": 19.5,
                    "labelPadding": 30,
                    "title": null
                  }
                },
                "y": {"field": "r", "type": "quantitative"}
              }
            },
            {
              "mark": {"type": "point", "opacity": 0, "size": 0, "strokeWidth": 0},
              "encoding": {
                "x": {
                  "field": "d",
                  "type": "temporal",
                  "axis": {
                    "orient": "bottom",
                    "values": [{"year": 2024, "month": 1, "date": 1}],
                    "grid": false,
                    "labels": false,
                    "ticks": true,
                    "tickSize": 51,
                    "tickColor": "#777777",
                    "domain": false,
                    "title": null
                  }
                },
                "y": {"field": "r", "type": "quantitative"}
              }
            },
            {
              "data": {"name": "rsiflag"},
              "mark": {"type": "point", "shape": "M -1 0 L -0.848 -0.29 L 1 -0.29 L 1 0.29 L -0.848 0.29 Z", "filled": true, "size": 8464, "opacity": 1, "fill": "#c1122f", "stroke": "#111111", "strokeWidth": 1, "xOffset": 46},
              "encoding": {"x": {"value": "width"}, "y": {"field": "v", "type": "quantitative"}}
            },
            {
              "data": {"name": "rsiflag"},
              "mark": {"type": "text", "font": "Liberation Sans", "fontSize": 21, "align": "left", "baseline": "middle", "xOffset": 13, "fill": "white"},
              "encoding": {"x": {"value": "width"}, "y": {"field": "v", "type": "quantitative"}, "text": {"field": "v", "type": "quantitative", "format": ".2f"}}
            }
          ],
          "resolve": {"axis": {"x": "independent"}}
        }
      ]
    },
    {
      "hconcat": [
        {
          "width": 526,
          "height": 1,
          "data": {"values": [{}]},
          "mark": {"type": "text", "text": " "},
          "title": {
            "text": "Source: CHARTbeat",
            "subtitle": "SGDJPY Curncy (SGD-JPY X-RATE) SGD/JPY  Daily 02AUG2023-12SEP2024",
            "anchor": "start",
            "frame": "group",
            "dx": 4,
            "font": "DejaVu Sans",
            "fontSize": 17.5,
            "fontWeight": "bold",
            "color": "black",
            "subtitleFont": "DejaVu Sans",
            "subtitleFontSize": 12,
            "subtitleColor": "black",
            "subtitlePadding": 5,
            "offset": 2
          }
        },
        {
          "width": 474,
          "height": 1,
          "data": {"values": [{}]},
          "mark": {"type": "text", "text": " "},
          "title": {
            "text": " ",
            "subtitle": "Copyright© 2024 Bloomberg Finance L.P.",
            "anchor": "middle",
            "frame": "group",
            "font": "DejaVu Sans",
            "fontSize": 17.5,
            "fontWeight": "bold",
            "color": "black",
            "subtitleFont": "DejaVu Sans",
            "subtitleFontSize": 12,
            "subtitleColor": "black",
            "subtitlePadding": 5,
            "offset": 2
          }
        },
        {
          "width": 224,
          "height": 1,
          "data": {"values": [{}]},
          "mark": {"type": "text", "text": " "},
          "title": {
            "text": " ",
            "subtitle": "12-Sep-2024 08:57:34",
            "anchor": "end",
            "frame": "group",
            "dx": -2,
            "font": "DejaVu Sans",
            "fontSize": 17.5,
            "fontWeight": "bold",
            "color": "black",
            "subtitleFont": "DejaVu Sans",
            "subtitleFontSize": 12,
            "subtitleColor": "black",
            "subtitlePadding": 5,
            "offset": 2
          }
        }
      ],
      "spacing": 0
    }
  ],
  "config": {
    "view": {"stroke": null},
    "font": "DejaVu Sans",
    "axis": {
      "labelFont": "DejaVu Sans",
      "labelFontSize": 19,
      "labelColor": "black",
      "labelFlush": false,
      "labelOverlap": false,
      "titleFont": "Liberation Sans",
      "titleFontSize": 23,
      "titleFontWeight": "normal",
      "titleColor": "black",
      "domainColor": "black",
      "tickColor": "black",
      "gridColor": "black",
      "gridWidth": 1
    },
    "legend": {
      "labelFont": "DejaVu Sans",
      "labelFontSize": 18.4,
      "labelColor": "black",
      "labelLimit": 0,
      "symbolType": "square",
      "symbolSize": 36,
      "symbolStrokeWidth": 6,
      "symbolOpacity": 1,
      "fillColor": "rgba(236,236,236,0.72)",
      "cornerRadius": 3
    }
  }
}
